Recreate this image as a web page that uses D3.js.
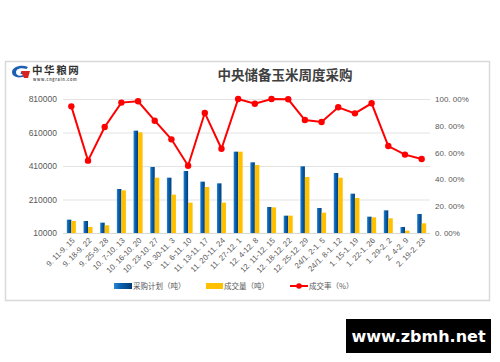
<!DOCTYPE html>
<html>
<head>
<meta charset="utf-8">
<script src="https://d3js.org/d3.v7.min.js"></script>
<style>
body { margin: 0; background: #fff; }
svg { font-family: "Noto Sans CJK SC", "Noto Sans", sans-serif; }
</style>
</head>
<body>
<div id="chart"></div>
<script>
// weekly data
var weeks = ["9. 11-9. 15", "9. 18-9. 22", "9. 25-9. 28", "10. 7-10. 13", "10. 16-10. 20",
  "10. 23-10. 27", "10. 30-11. 3", "11. 6-11. 10", "11. 13-11. 17", "11. 20-11. 24",
  "11. 27-12. 1", "12. 4-12. 8", "12. 11-12. 15", "12. 18-12. 22", "12. 25-12. 29",
  "24/1. 2-1. 5", "24/1. 8-1. 12", "1. 15-1. 19", "1. 22-1. 26", "1. 29-2. 2",
  "2. 4-2. 9", "2. 19-2. 23"];
var plan = [89600, 81600, 71700, 272700, 621000, 404000, 340300, 380100, 316500, 306500,
  495600, 431900, 165200, 113500, 408000, 159300, 368200, 244800, 107500, 145300, 45800, 123400];
var deal = [81600, 45800, 55800, 264700, 611000, 340300, 238900, 191100, 284600, 191100,
  495600, 416000, 163000, 113500, 344300, 131400, 340300, 219000, 103500, 97600, 23900, 67700];
var rate = [94.5, 54.0, 79.1, 97.3, 98.3, 83.8, 69.9, 50.2, 89.6, 62.9,
  100, 96.5, 100, 99.8, 84.3, 82.8, 93.8, 89.3, 96.8, 64.9, 58.5, 55.2];
var leftTicks = [10000, 210000, 410000, 610000, 810000];
var rightTicks = [0, 20, 40, 60, 80, 100];
var rightLabels = ["0. 00%", "20. 00%", "40. 00%", "60. 00%", "80. 00%", "100. 00%"];
var seriesNames = ["采购计划（吨）", "成交量（吨）", "成交率（%）"];

var W = 500, H = 362;
var pL = 63, pR = 430, pT = 99, pB = 233;

var svg = d3.select("#chart").append("svg")
  .attr("width", W).attr("height", H);

var defs = svg.append("defs");
var grad = defs.append("linearGradient").attr("id", "blueGrad")
  .attr("x1", "0").attr("x2", "1").attr("y1", "0").attr("y2", "0");
grad.append("stop").attr("offset", "0").attr("stop-color", "#2a86d6");
grad.append("stop").attr("offset", "0.35").attr("stop-color", "#0b63b0");
grad.append("stop").attr("offset", "1").attr("stop-color", "#003c78");

// frame
svg.append("rect")
  .attr("x", 5.5).attr("y", 61.5).attr("width", 484).attr("height", 239)
  .attr("fill", "#fff").attr("stroke", "#d9d9d9").attr("stroke-width", 1.5);

// logo
var logo = svg.append("g").attr("transform", "translate(11,65)");
logo.append("path")
  .attr("d", "M17,2 C10,-1 1,2 1,7 C1,12 8,14 14,11 L15,7 L10,7 L9.5,9 L12,9 L11.6,10.2 C8,11.5 5,10 5,7.2 C5,3.8 10,2 15.5,4 Z")
  .attr("fill", "#1d5fb5");
logo.append("path")
  .attr("d", "M10,6 L19,6 L17,13 L13,13 Z")
  .attr("fill", "#d9231d");
logo.append("text").attr("x", 21).attr("y", 9)
  .attr("font-size", 10.5).attr("font-weight", "bold").attr("fill", "#333")
  .attr("letter-spacing", 1.6)
  .text("中华粮网");
logo.append("text").attr("x", 22).attr("y", 15.5)
  .attr("font-size", 3.8).attr("font-weight", "bold").attr("fill", "#555")
  .attr("letter-spacing", 0.7)
  .text("www.cngrain.com");

// title
svg.append("text")
  .attr("x", 285).attr("y", 80)
  .attr("text-anchor", "middle")
  .attr("font-size", 13.5).attr("font-weight", "bold").attr("fill", "#404040")
  .text("中央储备玉米周度采购");

var x = d3.scaleBand().domain(weeks).range([pL, pR]);
var xs = d3.scaleBand().domain(["plan", "deal"]).range([0, x.bandwidth()]).paddingOuter(0.85);
var y = d3.scaleLinear().domain([10000, 810000]).range([pB, pT]);
var y2 = d3.scaleLinear().domain([0, 100]).range([pB, pT]);

// grid
svg.append("g").selectAll("line").data(leftTicks.slice(1)).join("line")
  .attr("x1", pL).attr("x2", pR)
  .attr("y1", d => y(d) + 0.5).attr("y2", d => y(d) + 0.5)
  .attr("stroke", "#e3e3e3").attr("stroke-width", 1.2);

// left axis
var axL = svg.append("g").attr("transform", "translate(" + pL + ",0)")
  .call(d3.axisLeft(y).tickValues(leftTicks).tickSize(0).tickPadding(6).tickFormat(d3.format("d")));
axL.select(".domain").remove();
axL.selectAll("text").attr("font-size", 8.5).attr("fill", "#595959")
  .attr("font-family", "Liberation Sans, Arial, sans-serif");

// right axis
var axR = svg.append("g").attr("transform", "translate(" + pR + ",0)")
  .call(d3.axisRight(y2).tickValues(rightTicks).tickSize(0).tickPadding(5)
    .tickFormat((d, i) => rightLabels[i]));
axR.select(".domain").remove();
axR.selectAll("text").attr("font-size", 8).attr("fill", "#595959")
  .attr("font-family", "Liberation Sans, Arial, sans-serif");

// bars
var g = svg.append("g");
g.selectAll(".plan").data(weeks).join("rect").attr("class", "plan")
  .attr("x", d => x(d) + xs("plan"))
  .attr("width", xs.bandwidth())
  .attr("y", (d, i) => y(plan[i]))
  .attr("height", (d, i) => pB - y(plan[i]))
  .attr("fill", "url(#blueGrad)");
g.selectAll(".deal").data(weeks).join("rect").attr("class", "deal")
  .attr("x", d => x(d) + xs("deal"))
  .attr("width", xs.bandwidth())
  .attr("y", (d, i) => y(deal[i]))
  .attr("height", (d, i) => pB - y(deal[i]))
  .attr("fill", "#ffc000");

// bottom axis line
svg.append("line").attr("x1", pL).attr("x2", pR)
  .attr("y1", pB + 0.5).attr("y2", pB + 0.5)
  .attr("stroke", "#d9d9d9").attr("stroke-width", 1.2);

// x labels
var axB = svg.append("g").attr("transform", "translate(0," + pB + ")")
  .call(d3.axisBottom(x).tickSize(0).tickPadding(0));
axB.select(".domain").remove();
axB.selectAll("text")
  .attr("font-size", 7.8).attr("fill", "#595959")
  .attr("text-anchor", "end")
  .attr("dy", "0")
  .attr("transform", "translate(4,8) rotate(-45)");

// rate line
var line = d3.line().x((d, i) => x(weeks[i]) + x.bandwidth() / 2).y(d => y2(d));
svg.append("path").datum(rate)
  .attr("d", line).attr("fill", "none")
  .attr("stroke", "#ff0000").attr("stroke-width", 2);
svg.append("g").selectAll("circle").data(rate).join("circle")
  .attr("cx", (d, i) => x(weeks[i]) + x.bandwidth() / 2)
  .attr("cy", d => y2(d))
  .attr("r", 3.2).attr("fill", "#ff0000");

// legend
var lg = svg.append("g").attr("font-size", 7.5).attr("fill", "#595959");
lg.append("rect").attr("x", 114).attr("y", 283).attr("width", 18).attr("height", 6)
  .attr("fill", "url(#blueGrad)");
lg.append("text").attr("x", 133).attr("y", 289).text(seriesNames[0]);
lg.append("rect").attr("x", 206).attr("y", 283).attr("width", 17).attr("height", 6)
  .attr("fill", "#ffc000");
lg.append("text").attr("x", 224).attr("y", 289).text(seriesNames[1]);
lg.append("line").attr("x1", 290).attr("x2", 308).attr("y1", 286).attr("y2", 286)
  .attr("stroke", "#ff0000").attr("stroke-width", 2);
lg.append("circle").attr("cx", 299).attr("cy", 286).attr("r", 2.8).attr("fill", "#ff0000");
lg.append("text").attr("x", 309).attr("y", 289).text(seriesNames[2]);

// watermark
svg.append("rect").attr("x", 346).attr("y", 319).attr("width", 145).attr("height", 34)
  .attr("fill", "#000");
svg.append("text").attr("x", 418.5).attr("y", 342)
  .attr("text-anchor", "middle").attr("fill", "#fff")
  .attr("font-size", 16).attr("font-weight", "bold")
  .attr("font-family", "DejaVu Sans, sans-serif")
  .text("www.zbmh.net");
</script>
</body>
</html>
